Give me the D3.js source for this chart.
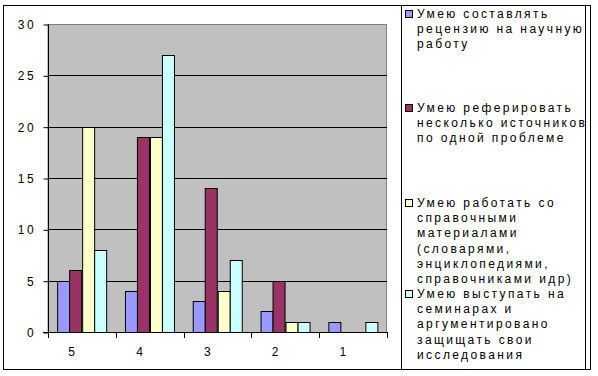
<!DOCTYPE html>
<html>
<head>
<meta charset="utf-8">
<script src="https://cdn.jsdelivr.net/npm/d3@7"></script>
<style>
  body { margin: 0; background: #fff; }
  svg text { font-family: "Liberation Sans", Arial, sans-serif; font-size: 12px; letter-spacing: 2.4px; fill: #000; }
</style>
</head>
<body>
<div id="chart"></div>
<script>
(function () {
  const categories = ["5", "4", "3", "2", "1"];
  const seriesNames = [
    ["Умею составлять", "рецензию на научную", "работу"],
    ["Умею реферировать", "несколько источников", "по одной проблеме"],
    ["Умею работать со", "справочными", "материалами", "(словарями,", "энциклопедиями,", "справочниками идр)"],
    ["Умею выступать на", "семинарах и", "аргументировано", "защищать свои", "исследования"]
  ];
  const reviewValues = [5, 4, 3, 2, 1];
  const abstractValues = [6, 19, 14, 5, 0];
  const referenceValues = [20, 19, 4, 1, 0];
  const seminarValues = [8, 27, 7, 1, 1];
  const yTicks = [0, 5, 10, 15, 20, 25, 30];

  const series = [reviewValues, abstractValues, referenceValues, seminarValues];
  const colors = ["#9999ff", "#993366", "#ffffcc", "#ccffff"];

  const W = 598, H = 376;
  const plot = {left: 48, right: 387, top: 24, bottom: 332};

  const svg = d3.select("#chart").append("svg")
    .attr("width", W)
    .attr("height", H);

  // chart border
  svg.append("rect")
    .attr("x", 3.5).attr("y", 5.5)
    .attr("width", 587).attr("height", 364)
    .attr("fill", "#fff").attr("stroke", "#000");

  const y = d3.scaleLinear().domain([0, 30]).range([plot.bottom, plot.top]);
  const x0 = d3.scaleBand().domain(categories)
    .range([plot.left, plot.right])
    .paddingInner(0.27).paddingOuter(0.135);
  const x1 = d3.scaleBand().domain(d3.range(series.length))
    .range([0, x0.bandwidth()]);

  // plot area
  svg.append("rect")
    .attr("x", plot.left).attr("y", plot.top + 0.5)
    .attr("width", plot.right - plot.left - 0.5)
    .attr("height", plot.bottom - plot.top)
    .attr("fill", "#c0c0c0").attr("stroke", "#808080");

  // gridlines
  svg.append("g").selectAll("line")
    .data(yTicks.filter(d => d > 0 && d < 30))
    .join("line")
    .attr("x1", plot.left).attr("x2", plot.right)
    .attr("y1", d => Math.round(y(d)) + 0.5)
    .attr("y2", d => Math.round(y(d)) + 0.5)
    .attr("stroke", "#000");

  // bars
  const groups = svg.append("g").selectAll("g")
    .data(categories)
    .join("g")
    .attr("transform", c => "translate(" + x0(c) + ",0)");

  groups.selectAll("rect")
    .data((c, i) => series.map((s, k) => ({k: k, v: s[i]})).filter(d => d.v > 0))
    .join("rect")
    .attr("x", d => Math.round(x1(d.k)) + 0.5)
    .attr("y", d => Math.round(y(d.v)) + 0.5)
    .attr("width", Math.round(x1.bandwidth()))
    .attr("height", d => Math.round(y(0)) - Math.round(y(d.v)))
    .attr("fill", d => colors[d.k])
    .attr("stroke", "#000");

  // y axis
  const yAxis = svg.append("g")
    .attr("transform", "translate(" + (plot.left + 0.5) + ",0.5)")
    .call(d3.axisLeft(y).tickValues(yTicks).tickSize(5).tickPadding(7.5));
  yAxis.selectAll("path, line").attr("stroke", "#000");
  yAxis.select(".domain").attr("d", "M0," + Math.round(plot.top) + "V" + plot.bottom);
  yAxis.selectAll("text").attr("font-size", null).attr("font-family", null);

  // x axis
  const step = x0.step();
  const bounds = d3.range(categories.length + 1).map(i => plot.left + i * step);
  const xg = svg.append("g");
  xg.append("line")
    .attr("x1", plot.left - 5).attr("x2", plot.right)
    .attr("y1", plot.bottom + 0.5).attr("y2", plot.bottom + 0.5)
    .attr("stroke", "#000");
  xg.selectAll("line.tick")
    .data(bounds)
    .join("line")
    .attr("class", "tick")
    .attr("x1", d => Math.round(d) + 0.5).attr("x2", d => Math.round(d) + 0.5)
    .attr("y1", plot.bottom).attr("y2", plot.bottom + 6)
    .attr("stroke", "#000");
  xg.selectAll("text")
    .data(categories)
    .join("text")
    .attr("x", c => x0(c) + x0.bandwidth() / 2 - 9)
    .attr("y", 356)
    .attr("text-anchor", "middle")
    .text(c => c);

  // legend
  svg.append("rect")
    .attr("x", 401.5).attr("y", 5.5)
    .attr("width", 184).attr("height", 364)
    .attr("fill", "#fff").attr("stroke", "#000");

  const itemTops = [18, 112, 207, 298];
  const lineH = 15.2;
  const items = svg.append("g").selectAll("g")
    .data(seriesNames)
    .join("g")
    .attr("transform", (d, i) => "translate(0," + itemTops[i] + ")");

  items.append("rect")
    .attr("x", 405.5).attr("y", -7.5)
    .attr("width", 7).attr("height", 7)
    .attr("fill", (d, i) => colors[i])
    .attr("stroke", "#000");

  items.append("text")
    .selectAll("tspan")
    .data(d => d)
    .join("tspan")
    .attr("x", 417)
    .attr("y", (d, i) => i * lineH)
    .text(d => d);
})();
</script>
</body>
</html>
